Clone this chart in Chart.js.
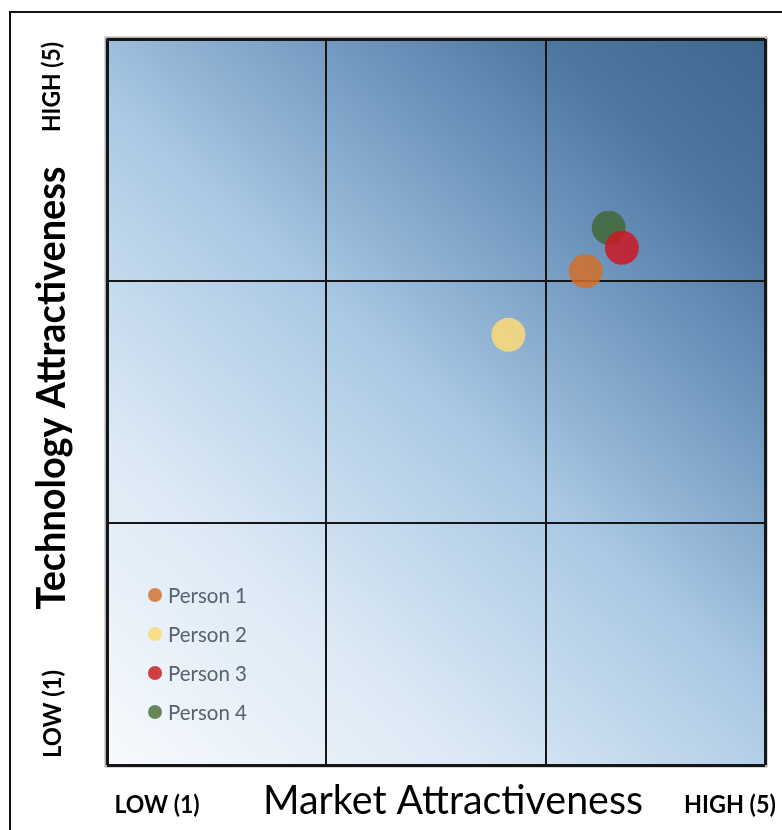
<!DOCTYPE html>
<html>
<head>
<meta charset="utf-8">
<script src="https://cdn.jsdelivr.net/npm/chart.js@4.4.1/dist/chart.umd.min.js"></script>
<style>
  html, body { margin: 0; padding: 0; background: #fff; }
  #wrap { width: 782px; height: 830px; }
</style>
</head>
<body>
<div id="wrap"><canvas id="myChart" width="782" height="830"></canvas></div>
<script>
// values (scale 1..5 on both axes)
const people = ['Person 1', 'Person 2', 'Person 3', 'Person 4'];
const marketScores = [3.91, 3.44, 4.13, 4.05];
const technologyScores = [3.72, 3.37, 3.85, 3.96];
const bubbleColors = ['rgba(212,110,40,0.85)', 'rgba(250,218,122,0.88)', 'rgba(204,24,34,0.85)', 'rgba(66,104,56,0.85)'];
const legendColors = ['#d5864c', '#fbdc88', '#d03f40', '#668659'];
const gridTicks = [1, 7 / 3, 11 / 3, 5];
const xAxisLabels = ['LOW (1)', 'Market Attractiveness', 'HIGH (5)'];
const yAxisLabels = ['LOW (1)', 'Technology Attractiveness', 'HIGH (5)'];

// Calibri-ish look: Lato at full height, squeezed to the measured width
function drawLabel(ctx, text, weight, size, width, x, y) {
  ctx.font = weight + ' ' + size + 'px Lato';
  ctx.fillText(text, x, y, width);
}

const pageFrame = {
  id: 'pageFrame',
  beforeDraw(chart) {
    const ctx = chart.ctx;
    ctx.save();
    ctx.fillStyle = '#fff';
    ctx.fillRect(0, 0, chart.width, chart.height);
    ctx.strokeStyle = '#111';
    ctx.lineWidth = 2;
    ctx.beginPath();
    ctx.moveTo(10, chart.height + 2);
    ctx.lineTo(10, 12);
    ctx.lineTo(chart.width + 2, 12);
    ctx.stroke();

    const a = chart.chartArea;
    // soft grey edge round the plot
    ctx.strokeStyle = 'rgba(120,120,120,0.6)';
    ctx.lineWidth = 5;
    ctx.strokeRect(a.left, a.top, a.right - a.left, a.bottom - a.top);

    const g = ctx.createLinearGradient(a.left, a.bottom, a.right, a.top);
    g.addColorStop(0, '#f7fafd');
    g.addColorStop(0.25, '#dce9f5');
    g.addColorStop(0.5, '#aac9e4');
    g.addColorStop(0.7, '#7299c0');
    g.addColorStop(0.85, '#4d76a0');
    g.addColorStop(1, '#3e668e');
    ctx.fillStyle = g;
    ctx.fillRect(a.left, a.top, a.right - a.left, a.bottom - a.top);
    ctx.restore();
  }
};

const axisText = {
  id: 'axisText',
  afterDraw(chart) {
    const ctx = chart.ctx;
    ctx.save();
    ctx.fillStyle = '#000';
    ctx.textAlign = 'center';
    ctx.textBaseline = 'alphabetic';

    drawLabel(ctx, xAxisLabels[0], 'bold', 24, 85, 157, 813);
    drawLabel(ctx, xAxisLabels[1], 'normal', 40, 380, 453, 814);
    drawLabel(ctx, xAxisLabels[2], 'bold', 24, 92, 730, 813);

    const drawUp = (text, size, width, x, y) => {
      ctx.save();
      ctx.translate(x, y);
      ctx.rotate(-Math.PI / 2);
      drawLabel(ctx, text, 'bold', size, width, 0, 0);
      ctx.restore();
    };
    drawUp(yAxisLabels[0], 24, 88, 61, 714);
    drawUp(yAxisLabels[1], 40, 443, 65, 388);
    drawUp(yAxisLabels[2], 24, 90, 60, 87);
    ctx.restore();
  }
};

const cornerLegend = {
  id: 'cornerLegend',
  afterDraw(chart) {
    const ctx = chart.ctx;
    ctx.save();
    ctx.font = 'normal 21px Lato';
    ctx.textAlign = 'left';
    ctx.textBaseline = 'middle';
    chart.data.datasets.forEach((ds, i) => {
      const y = 595 + i * 39;
      ctx.fillStyle = legendColors[i];
      ctx.beginPath();
      ctx.arc(155, y, 7, 0, Math.PI * 2);
      ctx.fill();
      ctx.fillStyle = '#586170';
      ctx.fillText(ds.label, 168, y + 1, 79);
    });
    ctx.restore();
  }
};

const lineWidthFor = (c) => (c.index === 0 || c.index === gridTicks.length - 1) ? 3 : 2;

function axisOptions() {
  return {
    min: 1,
    max: 5,
    afterBuildTicks: (axis) => { axis.ticks = gridTicks.map((v) => ({ value: v })); },
    ticks: { display: false },
    border: { display: false },
    grid: { color: '#161616', lineWidth: lineWidthFor, drawTicks: false }
  };
}

const ctx = document.getElementById('myChart').getContext('2d');
new Chart(ctx, {
  type: 'bubble',
  data: {
    datasets: people.map((name, i) => ({
      label: name,
      data: [{ x: marketScores[i], y: technologyScores[i] }],
      backgroundColor: bubbleColors[i],
      borderWidth: 0,
      radius: 17,
      hoverRadius: 0
    }))
  },
  options: {
    responsive: false,
    animation: false,
    layout: { padding: { left: 107, top: 39, right: 14, bottom: 65 } },
    scales: { x: axisOptions(), y: axisOptions() },
    plugins: { legend: { display: false }, tooltip: { enabled: false } }
  },
  plugins: [pageFrame, axisText, cornerLegend]
});
</script>
</body>
</html>
